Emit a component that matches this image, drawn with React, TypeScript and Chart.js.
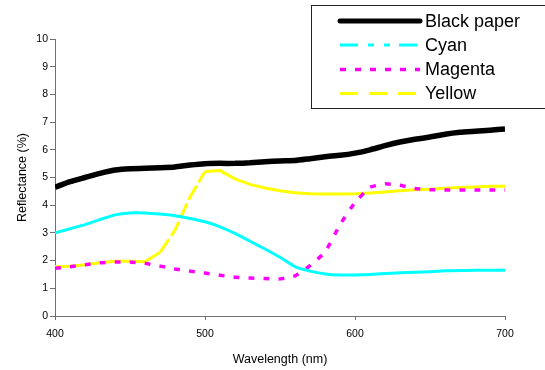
import React, { useEffect, useRef } from "react";
import { Chart, registerables } from "chart.js";

Chart.register(...registerables);

const wavelengths = [400, 410, 420, 430, 440, 450, 460, 470, 480, 490, 500, 510, 520, 530, 540, 550, 560, 570, 580, 590, 600, 610, 620, 630, 640, 650, 660, 670, 680, 690, 700];
const blackPaper = [4.65, 4.85, 5.0, 5.15, 5.27, 5.32, 5.33, 5.35, 5.38, 5.45, 5.5, 5.51, 5.51, 5.53, 5.57, 5.6, 5.61, 5.68, 5.75, 5.8, 5.88, 6.0, 6.15, 6.28, 6.38, 6.46, 6.56, 6.63, 6.67, 6.71, 6.75];
const cyan = [3.0, 3.15, 3.3, 3.48, 3.65, 3.72, 3.72, 3.68, 3.62, 3.52, 3.4, 3.22, 2.98, 2.7, 2.42, 2.12, 1.78, 1.62, 1.52, 1.48, 1.48, 1.5, 1.53, 1.56, 1.58, 1.6, 1.63, 1.64, 1.65, 1.65, 1.65];
const magenta = [1.72, 1.78, 1.85, 1.92, 1.95, 1.95, 1.9, 1.8, 1.7, 1.62, 1.55, 1.47, 1.4, 1.37, 1.35, 1.34, 1.45, 1.82, 2.3, 3.3, 4.1, 4.65, 4.77, 4.72, 4.6, 4.56, 4.55, 4.55, 4.55, 4.55, 4.55];
const yellow = [1.78, 1.8, 1.85, 1.92, 1.98, 1.98, 1.96, 2.3, 3.1, 4.3, 5.22, 5.25, 4.95, 4.75, 4.62, 4.52, 4.45, 4.41, 4.4, 4.4, 4.41, 4.44, 4.48, 4.52, 4.56, 4.58, 4.61, 4.64, 4.66, 4.68, 4.68];
const seriesNames = ["Black paper", "Cyan", "Magenta", "Yellow"];
const xTickValues = [400, 500, 600, 700];
const yTickMax = 10;

const FONT = "'Liberation Sans', Arial, sans-serif";
const AXIS_COLOR = "#707070";

const toPoints = (vals: number[]) => wavelengths.map((w, i) => ({ x: w, y: vals[i] }));

const longSegDash = (dash: number[]) => (ctx: any) => {
  const dx = ctx.p1.x - ctx.p0.x;
  const dy = ctx.p1.y - ctx.p0.y;
  return Math.sqrt(dx * dx + dy * dy) > 22 ? dash : undefined;
};

const legendStyles = [
  { color: "#000000", width: 5, dash: [] as number[] },
  { color: "#00FFFF", width: 3, dash: [18, 10, 6, 10, 6, 9] },
  { color: "#FF00FF", width: 3.5, dash: [6, 9] },
  { color: "#FFFF00", width: 3, dash: [18, 11] },
];

const legendPlugin = {
  id: "boxLegend",
  afterDraw(chart: any) {
    const c = chart.ctx;
    c.save();
    c.fillStyle = "#ffffff";
    c.fillRect(311.5, 5.5, 260, 103);
    c.strokeStyle = "#222";
    c.lineWidth = 1;
    c.strokeRect(311.5, 5.5, 260, 103);
    const rows = [21, 45, 69.5, 93.5];
    seriesNames.forEach((name, i) => {
      const st = legendStyles[i];
      c.beginPath();
      c.strokeStyle = st.color;
      c.lineWidth = st.width;
      c.lineCap = i === 0 ? "round" : "butt";
      c.setLineDash(st.dash);
      c.moveTo(340, rows[i]);
      c.lineTo(420, rows[i]);
      c.stroke();
      c.setLineDash([]);
      c.fillStyle = "#000";
      c.font = `18px ${FONT}`;
      c.textBaseline = "middle";
      c.textAlign = "left";
      c.fillText(name, 425, rows[i] + 1);
    });
    c.restore();
  },
};

export default function App() {
  const ref = useRef<HTMLCanvasElement | null>(null);

  useEffect(() => {
    if (!ref.current) return;
    const chart = new Chart(ref.current, {
      type: "line",
      data: {
        datasets: [
          {
            label: seriesNames[0],
            data: toPoints(blackPaper),
            borderColor: "#000000",
            borderWidth: 5.5,
            pointRadius: 0,
            tension: 0.15,
          },
          {
            label: seriesNames[1],
            data: toPoints(cyan),
            borderColor: "#00FFFF",
            borderWidth: 3,
            pointRadius: 0,
            tension: 0.15,
          },
          {
            label: seriesNames[2],
            data: toPoints(magenta),
            borderColor: "#FF00FF",
            borderWidth: 3.5,
            borderDash: [6, 9],
            pointRadius: 0,
            tension: 0.1,
          },
          {
            label: seriesNames[3],
            data: toPoints(yellow),
            borderColor: "#FFFF00",
            borderWidth: 3,
            pointRadius: 0,
            tension: 0,
            segment: { borderDash: longSegDash([16, 4]) },
          },
        ] as any,
      },
      options: {
        responsive: false,
        animation: false,
        layout: { padding: { left: 0, right: 40, top: 39, bottom: 0 } },
        plugins: {
          legend: { display: false },
          tooltip: { enabled: false },
        },
        scales: {
          x: {
            type: "linear",
            min: 400,
            max: 700,
            afterBuildTicks: (scale: any) => {
              scale.ticks = xTickValues.map((v) => ({ value: v }));
            },
            afterFit: (scale: any) => {
              scale.height = 54;
            },
            grid: {
              display: true,
              drawOnChartArea: false,
              drawTicks: true,
              tickLength: 4,
              color: AXIS_COLOR,
            },
            border: { display: true, color: AXIS_COLOR, width: 1 },
            ticks: {
              color: "#000",
              font: { family: FONT, size: 10.5 },
              padding: 8,
              maxRotation: 0,
            },
            title: {
              display: true,
              text: "Wavelength (nm)",
              color: "#000",
              font: { family: FONT, size: 12.5 },
              padding: 2.5,
            },
          },
          y: {
            type: "linear",
            min: 0,
            max: yTickMax,
            afterFit: (scale: any) => {
              scale.width = 55;
            },
            grid: {
              display: true,
              drawOnChartArea: false,
              drawTicks: true,
              tickLength: 5,
              color: AXIS_COLOR,
            },
            border: { display: true, color: AXIS_COLOR, width: 1 },
            ticks: {
              stepSize: 1,
              color: "#000",
              font: { family: FONT, size: 10.5 },
              padding: 2,
            },
            title: {
              display: true,
              text: "Reflectance (%)",
              color: "#000",
              font: { family: FONT, size: 12.5 },
              padding: { top: 15, bottom: 0 },
            },
          },
        },
      } as any,
      plugins: [legendPlugin],
    });
    return () => chart.destroy();
  }, []);

  return (
    <div style={{ position: "fixed", left: 0, top: 0, width: 545, height: 370, background: "#fff" }}>
      <canvas ref={ref} width={545} height={370} style={{ display: "block", width: 545, height: 370 }} />
    </div>
  );
}
